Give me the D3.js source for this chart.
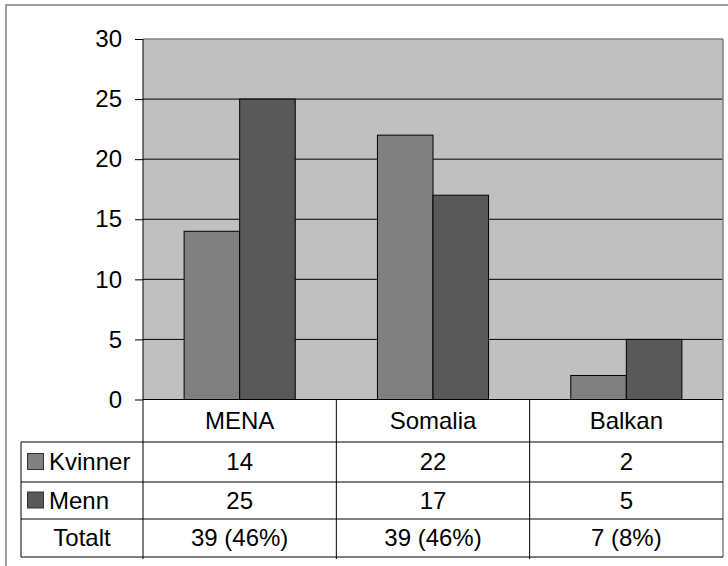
<!DOCTYPE html>
<html>
<head>
<meta charset="utf-8">
<script src="https://cdn.jsdelivr.net/npm/d3@7"></script>
<style>
  body { margin: 0; background: #fff; }
  text { font-family: "Liberation Sans", Arial, sans-serif; fill: #000; }
</style>
</head>
<body>
<div id="root"></div>
<script>
const categories = ["MENA", "Somalia", "Balkan"];
const seriesNames = ["Kvinner", "Menn"];
const kvinner = [14, 22, 2];
const menn = [25, 17, 5];
const totalLabels = ["39 (46%)", "39 (46%)", "7 (8%)"];
const yTicks = [0, 5, 10, 15, 20, 25, 30];

const colors = { Kvinner: "#808080", Menn: "#595959" };
const values = { Kvinner: kvinner, Menn: menn };

const width = 728;
const height = 566;
const fontSize = 24;

// plot area
const plotLeft = 143, plotRight = 723, plotTop = 39, plotBottom = 399.5;
// table rows (header, kvinner, menn, totalt)
const rowLines = [399.5, 442, 482, 519, 557];
const tableLeft = 21;

const svg = d3.select("#root")
  .append("svg")
  .attr("width", width)
  .attr("height", height);

// outer frame
svg.append("rect")
  .attr("x", 6)
  .attr("y", 5)
  .attr("width", width)
  .attr("height", height)
  .attr("fill", "#fff")
  .attr("stroke", "#7f7f7f")
  .attr("stroke-width", 1.5);

const x = d3.scaleBand()
  .domain(categories)
  .range([plotLeft, plotRight]);

const xInner = d3.scaleBand()
  .domain(seriesNames)
  .range([0, x.bandwidth()])
  .paddingInner(0)
  .paddingOuter(0.74);

const y = d3.scaleLinear()
  .domain([0, 30])
  .range([plotBottom, plotTop]);

// plot background
svg.append("rect")
  .attr("x", plotLeft)
  .attr("y", plotTop)
  .attr("width", plotRight - plotLeft)
  .attr("height", plotBottom - plotTop)
  .attr("fill", "#c0c0c0");

// gridlines
svg.append("g")
  .selectAll("line")
  .data(yTicks.filter((t) => t > 0 && t < 30))
  .enter()
  .append("line")
  .attr("x1", plotLeft)
  .attr("x2", plotRight)
  .attr("y1", (t) => y(t))
  .attr("y2", (t) => y(t))
  .attr("stroke", "#000")
  .attr("stroke-width", 1);

// top border of plot
svg.append("line")
  .attr("x1", plotLeft).attr("x2", plotRight)
  .attr("y1", plotTop).attr("y2", plotTop)
  .attr("stroke", "#808080").attr("stroke-width", 1.5);

// bars
const groups = svg.append("g")
  .selectAll("g")
  .data(categories)
  .enter()
  .append("g")
  .attr("transform", (c) => `translate(${x(c)},0)`);

groups.selectAll("rect")
  .data((c, i) => seriesNames.map((s) => ({ s, v: values[s][i] })))
  .enter()
  .append("rect")
  .attr("x", (d) => xInner(d.s))
  .attr("y", (d) => y(d.v))
  .attr("width", xInner.bandwidth())
  .attr("height", (d) => y(0) - y(d.v))
  .attr("fill", (d) => colors[d.s])
  .attr("stroke", "#000")
  .attr("stroke-width", 1);

// y axis
const yAxis = d3.axisLeft(y)
  .tickValues(yTicks)
  .tickSize(8)
  .tickPadding(13);

const yAxisG = svg.append("g")
  .attr("transform", `translate(${plotLeft},0)`)
  .call(yAxis);
yAxisG.select(".domain").remove();
yAxisG.selectAll("line").attr("stroke", "#000");
yAxisG.selectAll("text")
  .attr("font-size", fontSize)
  .attr("font-family", "Liberation Sans, Arial, sans-serif")
  .attr("fill", "#000");

// right grey border through plot and table
svg.append("line")
  .attr("x1", plotRight).attr("x2", plotRight)
  .attr("y1", plotTop).attr("y2", rowLines[4])
  .attr("stroke", "#808080").attr("stroke-width", 1.5);

// data table
const table = svg.append("g");

// horizontal lines
table.selectAll("line.h")
  .data(rowLines)
  .enter()
  .append("line")
  .attr("class", "h")
  .attr("x1", (d, i) => (i === 0 ? plotLeft : tableLeft))
  .attr("x2", plotRight)
  .attr("y1", (d) => d)
  .attr("y2", (d) => d)
  .attr("stroke", "#000")
  .attr("stroke-width", 1);

// vertical column lines
const colEdges = categories.slice(1).map((c) => x(c));
table.selectAll("line.v")
  .data(colEdges)
  .enter()
  .append("line")
  .attr("class", "v")
  .attr("x1", (d) => d)
  .attr("x2", (d) => d)
  .attr("y1", rowLines[0])
  .attr("y2", rowLines[4] + 2)
  .attr("stroke", "#000");

// y axis line
table.append("line")
  .attr("x1", plotLeft).attr("x2", plotLeft)
  .attr("y1", plotTop).attr("y2", rowLines[4] + 2)
  .attr("stroke", "#000");

// table left edge
table.append("line")
  .attr("x1", tableLeft).attr("x2", tableLeft)
  .attr("y1", rowLines[1]).attr("y2", rowLines[4])
  .attr("stroke", "#000");

const rowCenter = (i) => (rowLines[i] + rowLines[i + 1]) / 2;

// header
table.selectAll("text.cat")
  .data(categories)
  .enter()
  .append("text")
  .attr("class", "cat")
  .attr("x", (c) => x(c) + x.bandwidth() / 2)
  .attr("y", rowCenter(0))
  .attr("dy", "0.35em")
  .attr("text-anchor", "middle")
  .attr("font-size", fontSize)
  .text((c) => c);

// series rows
seriesNames.forEach((s, r) => {
  const cy = rowCenter(r + 1);
  table.append("rect")
    .attr("x", 27.5)
    .attr("y", cy - 8.5)
    .attr("width", 16)
    .attr("height", 16)
    .attr("fill", colors[s])
    .attr("stroke", "#333")
    .attr("stroke-width", 1);
  table.append("text")
    .attr("x", 49)
    .attr("y", cy)
    .attr("dy", "0.35em")
    .attr("font-size", fontSize)
    .text(s);
  table.selectAll(null)
    .data(values[s])
    .enter()
    .append("text")
    .attr("x", (v, i) => x(categories[i]) + x.bandwidth() / 2)
    .attr("y", cy)
    .attr("dy", "0.35em")
    .attr("text-anchor", "middle")
    .attr("font-size", fontSize)
    .text((v) => v);
});

// total row
const cyTotal = rowCenter(3);
table.append("text")
  .attr("x", (tableLeft + plotLeft) / 2)
  .attr("y", cyTotal)
  .attr("dy", "0.35em")
  .attr("text-anchor", "middle")
  .attr("font-size", fontSize)
  .text("Totalt");
table.selectAll(null)
  .data(totalLabels)
  .enter()
  .append("text")
  .attr("x", (t, i) => x(categories[i]) + x.bandwidth() / 2)
  .attr("y", cyTotal)
  .attr("dy", "0.35em")
  .attr("text-anchor", "middle")
  .attr("font-size", fontSize)
  .text((t) => t);
</script>
</body>
</html>
